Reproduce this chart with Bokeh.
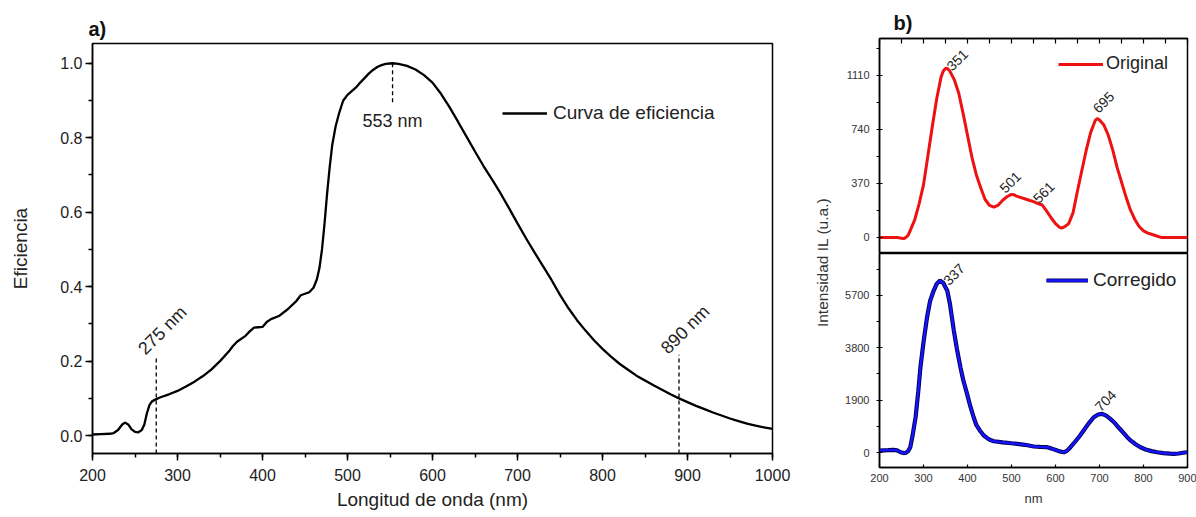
import numpy as np
from bokeh.plotting import figure
from bokeh.models import (Range1d, LinearAxis, Label, Legend, LegendItem,
                          SingleIntervalTicker, FixedTicker, PrintfTickFormatter)
from bokeh.layouts import row, column
from bokeh.embed import file_html
from bokeh.resources import INLINE

FONT = "Liberation Sans"

# ---------------- Panel a) data ----------------
eff_wl = [200, 210, 220, 225, 230, 235, 238, 242, 246, 250, 254, 258, 261, 264, 267, 270,
          275, 280, 290, 300, 310, 320, 330, 340, 350, 360, 365, 370, 380, 385, 390, 395,
          400, 405, 410, 420, 430, 440, 445, 450, 455, 460, 464, 467, 470, 473, 476, 479,
          482, 486, 490, 495, 500, 505, 510, 515, 520, 525, 530, 535, 540, 545, 553, 560,
          570, 580, 590, 600, 610, 620, 630, 640, 650, 660, 670, 680, 690, 700, 710, 720,
          730, 740, 750, 760, 770, 780, 790, 800, 810, 820, 830, 840, 850, 860, 870, 880,
          890, 900, 910, 920, 930, 940, 950, 960, 970, 980, 990, 1000]
eff_val = [0.003, 0.004, 0.005, 0.007, 0.015, 0.030, 0.035, 0.030, 0.017, 0.010, 0.009, 0.015,
           0.030, 0.060, 0.082, 0.092, 0.098, 0.103, 0.111, 0.120, 0.132, 0.145, 0.160, 0.178,
           0.200, 0.225, 0.240, 0.252, 0.268, 0.280, 0.290, 0.291, 0.292, 0.305, 0.313, 0.322,
           0.340, 0.362, 0.377, 0.381, 0.385, 0.397, 0.420, 0.450, 0.500, 0.570, 0.650, 0.720,
           0.780, 0.830, 0.865, 0.900, 0.915, 0.925, 0.935, 0.948, 0.960, 0.972, 0.982, 0.990,
           0.995, 0.998, 1.000, 0.998, 0.993, 0.983, 0.968, 0.948, 0.918, 0.882, 0.843, 0.803,
           0.763, 0.724, 0.688, 0.651, 0.611, 0.570, 0.530, 0.492, 0.455, 0.418, 0.378, 0.342,
           0.310, 0.282, 0.256, 0.233, 0.212, 0.193, 0.177, 0.161, 0.148, 0.135, 0.123, 0.111,
           0.100, 0.090, 0.080, 0.071, 0.062, 0.054, 0.046, 0.039, 0.032, 0.027, 0.022, 0.018]
eff_mark_wl = [275, 553, 890]
eff_mark_txt = ["275 nm", "553 nm", "890 nm"]
a_legend_label = "Curva de eficiencia"
a_xlabel = "Longitud de onda (nm)"
a_ylabel = "Eficiencia"
a_title = "a)"

# ---------------- Panel b) data ----------------
orig_wl = [200, 240, 250, 255, 260, 265, 270, 280, 290, 300, 310, 320, 330, 340, 345, 351,
           355, 360, 370, 380, 390, 400, 410, 420, 430, 440, 450, 460, 470, 480, 490, 500,
           505, 510, 520, 530, 540, 550, 560, 570, 580, 590, 600, 610, 615, 620, 630, 640,
           650, 660, 670, 680, 690, 695, 700, 710, 720, 730, 740, 750, 760, 770, 780, 790,
           800, 810, 820, 830, 840, 900]
orig_val = [0, 0, -5, -8, 0, 15, 48, 120, 230, 360, 560, 760, 950, 1100, 1140, 1160,
            1155, 1140, 1080, 990, 850, 700, 550, 430, 340, 260, 220, 208, 222, 255, 280, 295,
            293, 285, 275, 265, 255, 245, 232, 222, 180, 135, 95, 68, 65, 72, 95, 170,
            320, 460, 600, 720, 800, 815, 805, 770, 700, 600, 480, 380, 280, 190, 125, 75,
            45, 30, 20, 10, 0, 0]
orig_peak_wl = [351, 501, 561, 695]

corr_wl = [200, 210, 220, 232, 240, 248, 255, 260, 265, 270, 275, 282, 288, 293, 300, 308,
           315, 323, 330, 337, 345, 354, 360, 369, 376, 384, 390, 399, 406, 414, 420, 428,
           437, 445, 452, 460, 480, 500, 513, 530, 551, 565, 581, 590, 604, 612, 619, 626,
           634, 645, 655, 664, 675, 687, 697, 706, 715, 724, 733, 745, 755, 763, 772, 782,
           793, 805, 818, 831, 845, 860, 869, 880, 890, 899]
corr_val = [73, 80, 85, 97, 80, 10, -20, -10, 50, 192, 600, 1280, 2200, 3090, 4000, 4900,
            5500, 5870, 6120, 6240, 6150, 5870, 5400, 4420, 3750, 3090, 2650, 2128, 1700, 1280, 1000, 800,
            616, 520, 450, 410, 370, 335, 315, 280, 218, 205, 192, 150, 73, 30, 10, 60,
            192, 400, 600, 798, 1050, 1280, 1380, 1403, 1340, 1230, 1100, 880, 700, 555, 420, 300,
            192, 110, 50, 10, -20, -40, -47, -35, -10, 10]
corr_peak_wl = [337, 704]

b_xticks = [200, 300, 400, 500, 600, 700, 800, 900]
b_top_xticks = list(range(200, 901, 50))
b1_yticks = [0, 370, 740, 1110]
b1_yminor = [185, 555, 925, 1295]
b2_yticks = [0, 1900, 3800, 5700]
b2_yminor = [950, 2850, 4750, 6650]
b_legend_1 = "Original"
b_legend_2 = "Corregido"
b_xlabel = "nm"
b_ylabel = "Intensidad IL (u.a.)"
b_title = "b)"

# ======================= Panel a =======================
pa = figure(width=806, height=517, x_range=Range1d(200, 1000), y_range=Range1d(-0.048, 1.053),
            output_backend="svg", toolbar_location=None, title=a_title,
            min_border_left=92, min_border_right=34, min_border_top=43, min_border_bottom=64)
pa.title.align = "left"
pa.title.offset = -4
pa.title.standoff = 8
pa.title.text_font = FONT
pa.title.text_font_size = "20px"
pa.title.text_font_style = "bold"
pa.title.text_color = "#111111"
pa.xgrid.visible = False
pa.ygrid.visible = False
pa.outline_line_color = "black"
pa.outline_line_width = 1.5

ra = pa.line(eff_wl, eff_val, line_color="black", line_width=2.3)

pa.xaxis.ticker = SingleIntervalTicker(interval=100, num_minor_ticks=2)
pa.yaxis.ticker = SingleIntervalTicker(interval=0.2, num_minor_ticks=2)
pa.yaxis.formatter = PrintfTickFormatter(format="%.1f")
for ax in (pa.xaxis, pa.yaxis):
    ax.axis_line_width = 1.5
    ax.major_tick_line_width = 1.5
    ax.minor_tick_line_width = 1.5
    ax.major_tick_in = 0
    ax.major_tick_out = 7
    ax.minor_tick_in = 0
    ax.minor_tick_out = 4
    ax.major_label_text_font = FONT
    ax.major_label_text_font_size = "16px"
    ax.major_label_text_color = "#222222"
    ax.axis_label_text_font = FONT
    ax.axis_label_text_font_size = "19px"
    ax.axis_label_text_font_style = "normal"
    ax.axis_label_text_color = "#222222"
pa.xaxis.axis_label = a_xlabel
pa.yaxis.axis_label = a_ylabel
pa.xaxis.major_label_standoff = 8
pa.xaxis.axis_label_standoff = 5
pa.yaxis.major_label_standoff = 3
pa.yaxis.axis_label_standoff = 26

legend_a = Legend(items=[LegendItem(label=a_legend_label, renderers=[ra])], location=(410, 329),
                  border_line_color=None, background_fill_alpha=0, padding=0, margin=0,
                  spacing=0, glyph_width=45, glyph_height=20, label_standoff=6,
                  label_text_font=FONT, label_text_font_size="19px", label_text_color="#222222")
pa.add_layout(legend_a)

mk_y = [float(np.interp(w, eff_wl, eff_val)) for w in eff_mark_wl]
ybot = pa.y_range.start
for w, yc, t in zip(eff_mark_wl, mk_y, eff_mark_txt):
    if w == 553:
        pa.segment(x0=[w], y0=[yc], x1=[w], y1=[yc - 0.108], line_color="black",
                   line_width=1.3, line_dash="4 3")
        pa.add_layout(Label(x=w, y=yc - 0.128, text=t, text_align="center", text_baseline="top",
                            text_font=FONT, text_font_size="18px", text_color="#222222"))
    else:
        pa.segment(x0=[w], y0=[ybot], x1=[w], y1=[yc + 0.117], line_color="black",
                   line_width=1.3, line_dash="4 3")
        pa.add_layout(Label(x=w, y=yc + 0.117, x_offset=-15, y_offset=4, text=t, angle=np.pi / 4,
                            text_align="left", text_baseline="alphabetic",
                            text_font=FONT, text_font_size="18px", text_color="#222222"))

# ======================= shared y title for panel b =======================
py = figure(width=30, height=517, x_range=Range1d(0, 1), y_range=Range1d(0, 1),
            output_backend="svg", toolbar_location=None, x_axis_location=None,
            y_axis_location=None,
            min_border_left=0, min_border_right=0, min_border_top=43, min_border_bottom=64)
py.outline_line_color = None
py.xgrid.visible = False
py.ygrid.visible = False
py.add_layout(Label(x=0.517, y=0.466, text=b_ylabel, angle=np.pi / 2, text_align="center",
                    text_baseline="middle", text_font=FONT, text_font_size="15.5px",
                    text_color="#333333"))

# ======================= Panel b (top) =======================
def style_b_axes(ax):
    ax.axis_line_width = 1.5
    ax.major_tick_line_width = 1.2
    ax.minor_tick_line_width = 1.2
    ax.major_label_text_font = FONT
    ax.major_label_text_font_size = "11px"
    ax.major_label_text_color = "#333333"
    ax.axis_label_text_font = FONT
    ax.axis_label_text_font_size = "13px"
    ax.axis_label_text_font_style = "normal"
    ax.axis_label_text_color = "#333333"

pb1 = figure(width=360, height=253, x_range=Range1d(200, 900), y_range=Range1d(-110, 1363),
             output_backend="svg", toolbar_location=None, x_axis_location=None, title=b_title,
             min_border_left=43, min_border_right=9, min_border_top=38, min_border_bottom=0)
pb1.title.align = "left"
pb1.title.offset = 14
pb1.title.standoff = 9
pb1.title.text_font = FONT
pb1.title.text_font_size = "20px"
pb1.title.text_font_style = "bold"
pb1.title.text_color = "#111111"
pb1.xgrid.visible = False
pb1.ygrid.visible = False
pb1.outline_line_color = "black"
pb1.outline_line_width = 1.5

top_ax = LinearAxis(ticker=FixedTicker(ticks=[], minor_ticks=b_top_xticks),
                    minor_tick_in=5, minor_tick_out=0, major_tick_in=0, major_tick_out=0)
style_b_axes(top_ax)
pb1.add_layout(top_ax, "above")

pb1.yaxis.ticker = FixedTicker(ticks=b1_yticks, minor_ticks=b1_yminor)
style_b_axes(pb1.yaxis)
pb1.yaxis.major_tick_in = 3
pb1.yaxis.major_tick_out = 3
pb1.yaxis.minor_tick_in = 0
pb1.yaxis.minor_tick_out = 3
pb1.yaxis.major_label_standoff = 7

rb1 = pb1.line(orig_wl, orig_val, line_color="#ee1111", line_width=3)
legend_b1 = Legend(items=[LegendItem(label=b_legend_1, renderers=[rb1])], location=(179, 179),
                   border_line_color=None, background_fill_alpha=0, padding=0, margin=0,
                   spacing=0, glyph_width=45, glyph_height=20, label_standoff=3,
                   label_text_font=FONT, label_text_font_size="18px", label_text_color="#222222")
pb1.add_layout(legend_b1)

peak_off_1 = [(3, 0), (-10, 4), (-3, 3), (-2, 8)]
for w, (dx, dy) in zip(orig_peak_wl, peak_off_1):
    yv = float(np.interp(w, orig_wl, orig_val))
    pb1.add_layout(Label(x=w, y=yv, x_offset=dx, y_offset=dy, text=str(w), angle=np.pi / 4,
                         text_align="left", text_baseline="alphabetic", text_font=FONT,
                         text_font_size="14px", text_color="#222222"))

# ======================= Panel b (bottom) =======================
pb2 = figure(width=360, height=264, x_range=Range1d(200, 900), y_range=Range1d(-544, 7223),
             output_backend="svg", toolbar_location=None,
             min_border_left=43, min_border_right=9, min_border_top=0, min_border_bottom=50)
pb2.xgrid.visible = False
pb2.ygrid.visible = False
pb2.outline_line_color = "black"
pb2.outline_line_width = 1.5

pb2.xaxis.ticker = FixedTicker(ticks=b_xticks)
pb2.yaxis.ticker = FixedTicker(ticks=b2_yticks, minor_ticks=b2_yminor)
style_b_axes(pb2.xaxis)
style_b_axes(pb2.yaxis)
pb2.xaxis.major_tick_in = 3
pb2.xaxis.major_tick_out = 0
pb2.xaxis.major_label_standoff = 6
pb2.xaxis.axis_label = b_xlabel
pb2.xaxis.axis_label_standoff = 6
pb2.yaxis.major_tick_in = 3
pb2.yaxis.major_tick_out = 3
pb2.yaxis.minor_tick_in = 0
pb2.yaxis.minor_tick_out = 3
pb2.yaxis.major_label_standoff = 7

rb2a = pb2.line(corr_wl, corr_val, line_color="#000050", line_width=4.2)
rb2b = pb2.line(corr_wl, corr_val, line_color="#1414ff", line_width=2.4)
legend_b2 = Legend(items=[LegendItem(label=b_legend_2, renderers=[rb2a, rb2b])], location=(167, 176),
                   border_line_color=None, background_fill_alpha=0, padding=0, margin=0,
                   spacing=0, glyph_width=42, glyph_height=20, label_standoff=5,
                   label_text_font=FONT, label_text_font_size="19px", label_text_color="#222222")
pb2.add_layout(legend_b2)

peak_off_2 = [(6, -2), (-4, 5)]
for w, (dx, dy) in zip(corr_peak_wl, peak_off_2):
    yv = float(np.interp(w, corr_wl, corr_val))
    pb2.add_layout(Label(x=w, y=yv, x_offset=dx, y_offset=dy, text=str(w), angle=np.pi / 4,
                         text_align="left", text_baseline="alphabetic", text_font=FONT,
                         text_font_size="14px", text_color="#222222"))

layout = row(pa, py, column(pb1, pb2, spacing=0), spacing=0)
open("out.html", "w").write(file_html(layout, INLINE))
